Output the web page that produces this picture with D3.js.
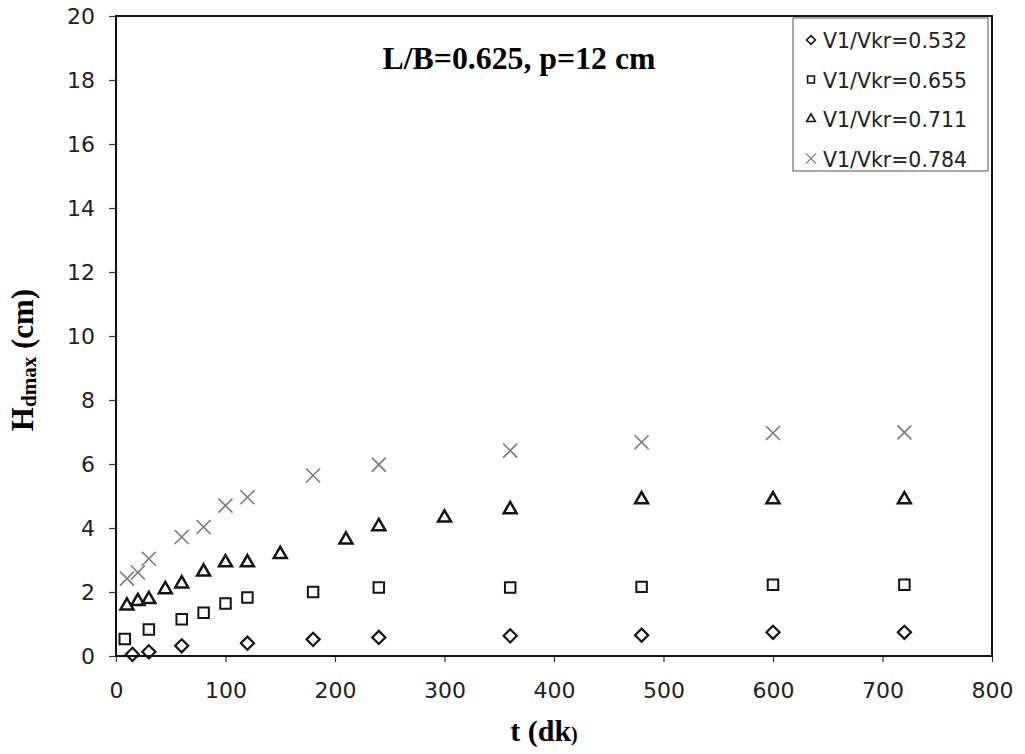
<!DOCTYPE html>
<html>
<head>
<meta charset="utf-8">
<script src="https://cdn.jsdelivr.net/npm/d3@7"></script>
<style>
  html, body { margin: 0; padding: 0; background: #fff; }
  svg { display: block; }
</style>
</head>
<body>
<svg id="chart" width="1025" height="754"></svg>
<script>
// Series: maximum scour depth H_dmax (cm) against time t (dk)
const seriesNames = ["V1/Vkr=0.532", "V1/Vkr=0.655", "V1/Vkr=0.711", "V1/Vkr=0.784"];

const t532 = [15, 30, 60, 120, 180, 240, 360, 480, 600, 720];
const h532 = [0.05, 0.13, 0.32, 0.40, 0.52, 0.58, 0.63, 0.65, 0.74, 0.74];

const t655 = [8, 30, 60, 80, 100, 120, 180, 240, 360, 480, 600, 720];
const h655 = [0.53, 0.83, 1.15, 1.35, 1.64, 1.83, 2.00, 2.14, 2.14, 2.16, 2.23, 2.23];

const t711 = [10, 20, 30, 45, 60, 80, 100, 120, 150, 210, 240, 300, 360, 480, 600, 720];
const h711 = [1.57, 1.71, 1.77, 2.08, 2.26, 2.63, 2.92, 2.92, 3.18, 3.63, 4.05, 4.32, 4.58, 4.89, 4.89, 4.89];

const t784 = [10, 20, 30, 60, 80, 100, 120, 180, 240, 360, 480, 600, 720];
const h784 = [2.42, 2.61, 3.04, 3.72, 4.03, 4.70, 4.96, 5.64, 5.98, 6.42, 6.68, 6.97, 6.99];

const xTicks = [0, 100, 200, 300, 400, 500, 600, 700, 800];
const yTicks = [0, 2, 4, 6, 8, 10, 12, 14, 16, 18, 20];

const titleText = "L/B=0.625, p=12 cm";

// marker styling per series
const series = [
  { name: seriesNames[0], t: t532, h: h532, type: d3.symbolDiamond2, color: "#141414", size: 110, lsize: 50, width: 2.2 },
  { name: seriesNames[1], t: t655, h: h655, type: d3.symbolSquare2,  color: "#141414", size: 140, lsize: 60, width: 2.0 },
  { name: seriesNames[2], t: t711, h: h711, type: d3.symbolTriangle2, color: "#141414", size: 120, lsize: 55, width: 2.5 },
  { name: seriesNames[3], t: t784, h: h784, type: d3.symbolTimes,    color: "#7a7a7a", size: 130, lsize: 70, width: 1.6 }
];

const svg = d3.select("#chart");
const plotLeft = 116, plotRight = 992, plotTop = 16, plotBottom = 656;

const x = d3.scaleLinear().domain([0, 800]).range([plotLeft, plotRight]);
const y = d3.scaleLinear().domain([0, 20]).range([plotBottom, plotTop]);

const tickFont = "'DejaVu Sans', sans-serif";

// axes
const xAxis = d3.axisBottom(x).tickValues(xTicks).tickSize(6).tickPadding(20).tickFormat(d3.format("d"));
const yAxis = d3.axisLeft(y).tickValues(yTicks).tickSize(7).tickPadding(14).tickFormat(d3.format("d"));

const gx = svg.append("g").attr("transform", `translate(0,${plotBottom})`).call(xAxis);
const gy = svg.append("g").attr("transform", `translate(${plotLeft},0)`).call(yAxis);

[gx, gy].forEach(g => {
  g.select(".domain").remove();
  g.selectAll(".tick line").attr("stroke", "#333").attr("stroke-width", 1.2);
  g.selectAll(".tick text")
    .attr("fill", "#222")
    .style("font-family", tickFont)
    .style("font-size", "22px");
});

// plot frame
svg.append("rect")
  .attr("x", plotLeft).attr("y", plotTop)
  .attr("width", plotRight - plotLeft).attr("height", plotBottom - plotTop)
  .attr("fill", "none").attr("stroke", "#111").attr("stroke-width", 2);

// data points
series.forEach(s => {
  const sym = d3.symbol().type(s.type).size(s.size);
  svg.append("g").selectAll("path")
    .data(s.t.map((tv, i) => [tv, s.h[i]]))
    .join("path")
    .attr("d", sym)
    .attr("transform", d => `translate(${x(d[0])},${y(d[1])})`)
    .attr("fill", "none")
    .attr("stroke", s.color)
    .attr("stroke-width", s.width);
});

// title inside the plot
svg.append("text")
  .attr("x", 519).attr("y", 69)
  .attr("text-anchor", "middle")
  .attr("textLength", 273).attr("lengthAdjust", "spacingAndGlyphs")
  .style("font-family", "'Liberation Serif', 'Times New Roman', serif")
  .style("font-weight", "bold")
  .style("font-size", "31px")
  .attr("fill", "#000")
  .text(titleText);

// legend
const lg = svg.append("g");
lg.append("rect")
  .attr("x", 793).attr("y", 18).attr("width", 195).attr("height", 153)
  .attr("fill", "#fff").attr("stroke", "#555").attr("stroke-width", 1);

series.forEach((s, i) => {
  const cy = 40 + i * 39.5;
  lg.append("path")
    .attr("d", d3.symbol().type(s.type).size(s.lsize)())
    .attr("transform", `translate(811,${cy})`)
    .attr("fill", "none")
    .attr("stroke", s.color)
    .attr("stroke-width", s.type === d3.symbolTimes ? 1.3 : 1.6);
  lg.append("text")
    .attr("x", 823).attr("y", cy + 8)
    .attr("textLength", 144).attr("lengthAdjust", "spacingAndGlyphs")
    .style("font-family", tickFont)
    .style("font-size", "21.5px")
    .attr("fill", "#222")
    .text(s.name);
});

// x-axis title
const xt = svg.append("text")
  .attr("x", 544).attr("y", 741)
  .attr("text-anchor", "middle")
  .style("font-family", "'Liberation Serif', 'Times New Roman', serif")
  .style("font-weight", "bold")
  .attr("fill", "#000");
xt.append("tspan").style("font-size", "30px").text("t (dk");
xt.append("tspan").style("font-size", "20px").text(")");

// y-axis title
const yt = svg.append("text")
  .attr("transform", "translate(33,360) rotate(-90)")
  .attr("text-anchor", "middle")
  .style("font-family", "'Liberation Serif', 'Times New Roman', serif")
  .style("font-weight", "bold")
  .attr("fill", "#000");
yt.append("tspan").style("font-size", "31px").text("H");
yt.append("tspan").style("font-size", "21px").attr("dy", 3).text("dmax");
yt.append("tspan").style("font-size", "31px").attr("dy", -3).text(" (cm)");
</script>
</body>
</html>
